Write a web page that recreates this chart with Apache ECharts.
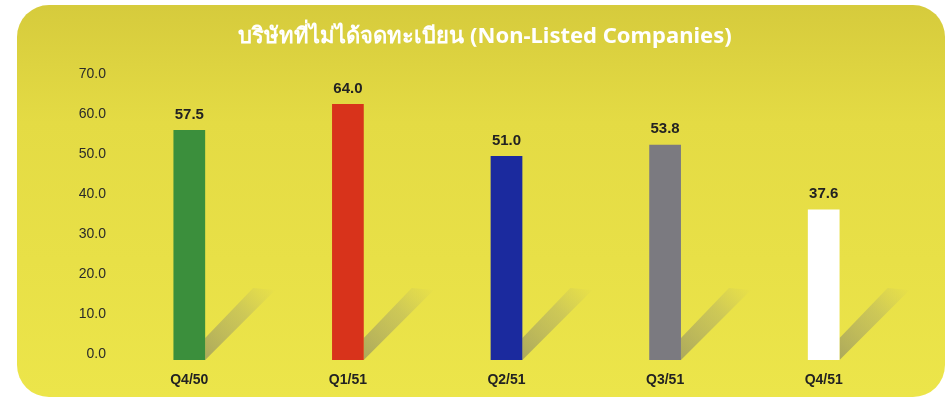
<!DOCTYPE html>
<html>
<head>
<meta charset="utf-8">
<script src="https://cdn.jsdelivr.net/npm/echarts@6/dist/echarts.min.js"></script>
<style>
  html, body { margin: 0; padding: 0; background: #fff; }
  #chart { width: 951px; height: 400px; }
</style>
</head>
<body>
<div id="chart"></div>
<script>
const titleText = "บริษัทที่ไม่ได้จดทะเบียน (Non-Listed Companies)";
const quarters = ["Q4/50", "Q1/51", "Q2/51", "Q3/51", "Q4/51"];
const values = [57.5, 64.0, 51.0, 53.8, 37.6];
const barColors = ["#3b8f3c", "#d8331b", "#1b2a9e", "#7b7a80", "#ffffff"];

const chart = echarts.init(document.getElementById("chart"));

// diagonal paper-fold shadow behind each bar
function renderShadow(params, api) {
  const base = api.coord([api.value(0), 0]);
  const half = api.size([1, 0])[0] * 0.1;
  const xr = base[0] + half;
  const yb = base[1];
  return {
    type: "polygon",
    z2: 0,
    shape: {
      points: [[xr, yb], [xr, yb - 22], [xr + 48, yb - 72], [xr + 70, yb - 70]]
    },
    style: {
      fill: {
        type: "linear", x: 0, y: 1, x2: 1, y2: 0,
        colorStops: [
          { offset: 0, color: "rgba(110,110,110,0.5)" },
          { offset: 0.6, color: "rgba(140,140,120,0.3)" },
          { offset: 1, color: "rgba(160,160,120,0.0)" }
        ]
      }
    }
  };
}

chart.setOption({
  animation: false,
  graphic: [{
    type: "rect",
    z: -10,
    shape: { x: 17, y: 5, width: 928, height: 392, r: 32 },
    style: {
      fill: {
        type: "linear", x: 0, y: 0, x2: 0, y2: 1,
        colorStops: [
          { offset: 0, color: "#d6cb3c" },
          { offset: 0.3, color: "#e4db44" },
          { offset: 1, color: "#ece54a" }
        ]
      }
    }
  }],
  title: {
    text: titleText,
    left: 480,
    textAlign: "center",
    top: 21,
    textStyle: {
      color: "#ffffff",
      fontSize: 22,
      fontWeight: "bold",
      fontFamily: "Noto Sans, DejaVu Sans, sans-serif"
    }
  },
  grid: { left: 110, right: 48, top: 80, bottom: 40 },
  xAxis: {
    type: "category",
    data: quarters,
    axisLine: { show: false },
    axisTick: { show: false },
    axisLabel: {
      margin: 13,
      color: "#222",
      fontSize: 14,
      fontWeight: "bold",
      fontFamily: "Liberation Sans, Arial, sans-serif"
    }
  },
  yAxis: {
    type: "value",
    min: 0,
    max: 70,
    interval: 10,
    splitLine: { show: false },
    axisLine: { show: false },
    axisTick: { show: false },
    axisLabel: {
      margin: 4,
      color: "#2a2a2a",
      fontSize: 14,
      verticalAlign: "bottom",
      lineHeight: 12,
      fontFamily: "Liberation Sans, Arial, sans-serif",
      formatter: v => v.toFixed(1)
    }
  },
  series: [
    {
      type: "custom",
      renderItem: renderShadow,
      data: quarters.map((q, i) => [i]),
      z: 1,
      silent: true
    },
    {
      type: "bar",
      barWidth: "20%",
      z: 2,
      data: values.map((v, i) => ({ value: v, itemStyle: { color: barColors[i] } })),
      label: {
        show: true,
        position: "top",
        distance: 8,
        color: "#222",
        fontSize: 15,
        fontWeight: "bold",
        fontFamily: "Liberation Sans, Arial, sans-serif",
        formatter: p => p.value.toFixed(1)
      }
    }
  ]
});
</script>
</body>
</html>
